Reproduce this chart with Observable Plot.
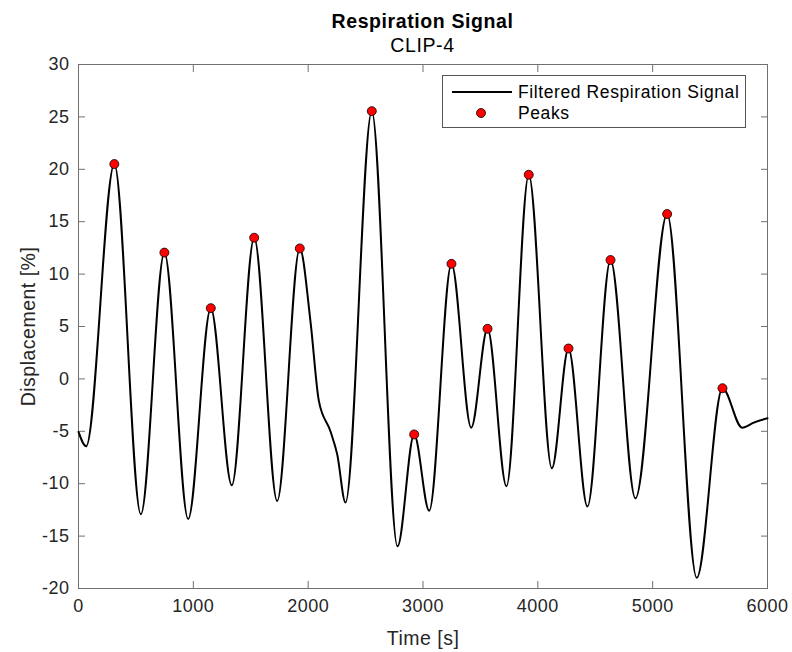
<!DOCTYPE html>
<html><head><meta charset="utf-8">
<script src="https://cdn.jsdelivr.net/npm/d3@7"></script>
<script src="https://cdn.jsdelivr.net/npm/@observablehq/plot@0.6"></script>
<style>
body{margin:0;background:#fff;font-family:Arial,"Liberation Sans",sans-serif;}
#wrap{position:relative;width:792px;height:652px;}
.t{position:absolute;left:0;width:845px;text-align:center;color:#000;font-size:19.5px;line-height:22px;letter-spacing:0.6px;}
#legend{position:absolute;left:442px;top:75px;width:302px;height:51px;border:1px solid #555;background:#fff;color:#000;font-size:17.5px;letter-spacing:0.6px;}
#legend svg{position:absolute;left:0;top:0;}
#legend span{position:absolute;left:75px;white-space:nowrap;line-height:20px;}
</style></head><body><div id="wrap">
<div class="t" style="top:10px;font-weight:bold;">Respiration Signal</div>
<div class="t" style="top:34px;">CLIP-4</div>
</div>
<script>
// Signal (key points)
const signalTime = [0, 67, 312, 543, 748, 955, 1152, 1335, 1530, 1730, 1927, 2020, 2093, 2194, 2253, 2325, 2554, 2778, 2923, 3054, 3248, 3420, 3562, 3727, 3921, 4122, 4267, 4432, 4633, 4850, 5126, 5384, 5608, 5779, 5881, 6000];
const signalValue = [-5.06, -6.43, 20.5, -12.92, 12.05, -13.37, 6.75, -10.15, 13.47, -11.65, 12.45, 5.5, -2.1, -5.0, -7.2, -11.8, 25.55, -15.98, -5.3, -12.58, 10.98, -4.65, 4.78, -10.25, 19.48, -8.53, 2.9, -12.18, 11.34, -11.4, 15.73, -18.98, -0.89, -4.65, -4.17, -3.76];
// Peaks
const peakTime = [312, 748, 1152, 1530, 1927, 2554, 2923, 3248, 3562, 3921, 4267, 4633, 5126, 5608];
const peakValue = [20.5, 12.05, 6.75, 13.47, 12.45, 25.55, -5.3, 10.98, 4.78, 19.48, 2.9, 11.34, 15.73, -0.89];
// Ticks
const xTicks = [0, 1000, 2000, 3000, 4000, 5000, 6000];
const yTicks = [-20, -15, -10, -5, 0, 5, 10, 15, 20, 25, 30];

const signal = signalTime.map((t, i) => ({t, v: signalValue[i]}));
const peaks = peakTime.map((t, i) => ({t, v: peakValue[i]}));

const axisColor = "#707070";
const textColor = "#262626";
const fmt = d => String(d);
const blank = () => "";

const chart = Plot.plot({
  width: 792, height: 652,
  marginLeft: 78, marginRight: 25, marginTop: 64, marginBottom: 64,
  style: {fontFamily: "Arial, 'Liberation Sans', sans-serif", fontSize: "18px", color: textColor, background: "white", letterSpacing: "0.5px"},
  x: {domain: [0, 6000], label: null},
  y: {domain: [-20, 30], label: null},
  marks: [
    // tick labels
    Plot.axisX(xTicks, {anchor: "bottom", tickSize: 0, tickPadding: 11, tickFormat: fmt, fill: textColor, fontSize: 18, label: null}),
    Plot.axisY(yTicks, {anchor: "left", tickSize: 0, tickPadding: 9, tickFormat: fmt, fill: textColor, fontSize: 18, label: null}),
    // inward tick marks on all four sides
    Plot.axisX(xTicks, {anchor: "bottom", tickSize: 7, dy: -7, tickFormat: blank, stroke: axisColor, label: null}),
    Plot.axisX(xTicks, {anchor: "top", tickSize: 7, dy: 7, tickFormat: blank, stroke: axisColor, label: null}),
    Plot.axisY(yTicks, {anchor: "left", tickSize: 7, dx: 7, tickFormat: blank, stroke: axisColor, label: null}),
    Plot.axisY(yTicks, {anchor: "right", tickSize: 7, dx: -7, tickFormat: blank, stroke: axisColor, label: null}),
    Plot.frame({stroke: axisColor}),
    Plot.line(signal, {x: "t", y: "v", curve: "monotone-x", stroke: "black", strokeWidth: 2}),
    Plot.dot(peaks, {x: "t", y: "v", r: 4.5, fill: "red", stroke: "black", strokeWidth: 0.8}),
    Plot.text(["Time [s]"], {frameAnchor: "bottom", dy: 50, textAnchor: "middle", lineAnchor: "middle", fontSize: 19.5, fill: textColor}),
    Plot.text(["Displacement [%]"], {frameAnchor: "left", dx: -50, rotate: -90, textAnchor: "middle", lineAnchor: "middle", fontSize: 19.5, fill: textColor})
  ]
});
const wrap = document.getElementById("wrap");
wrap.insertBefore(chart, wrap.firstChild);

const legend = document.createElement("div");
legend.id = "legend";
legend.innerHTML = `
  <svg width="75" height="51">
    <line x1="9" x2="69" y1="16" y2="16" stroke="black" stroke-width="2"/>
    <circle cx="38" cy="37" r="4.5" fill="red" stroke="black" stroke-width="0.8"/>
  </svg>
  <span style="top:6px">Filtered Respiration Signal</span>
  <span style="top:27px">Peaks</span>`;
wrap.appendChild(legend);
</script>
</body></html>
